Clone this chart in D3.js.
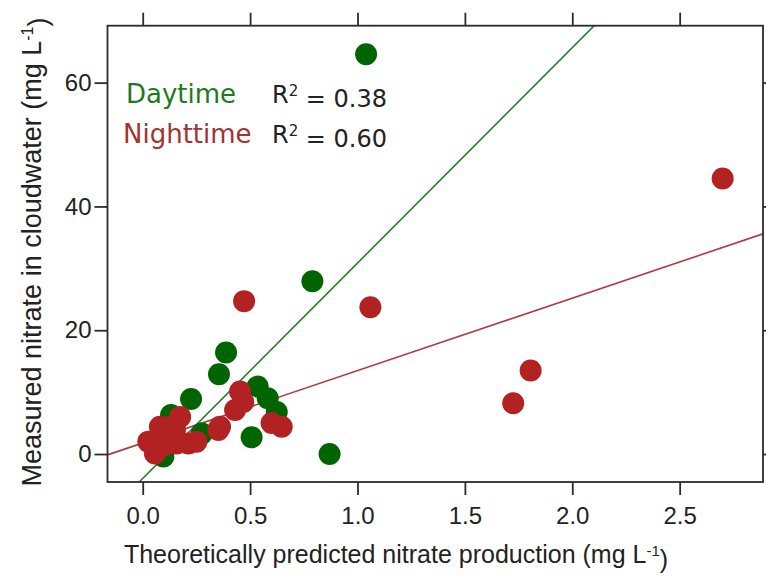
<!DOCTYPE html>
<html>
<head>
<meta charset="utf-8">
<script src="https://cdn.jsdelivr.net/npm/d3@7"></script>
<style>
  html, body { margin: 0; padding: 0; background: #fff; }
  svg { display: block; }
</style>
</head>
<body>
<div id="chart"></div>
<script>
// data: [predicted nitrate, measured nitrate]
const dayPoints = [
  [1.04, 64.6], [0.79, 27.9], [0.87, 0.0], [0.388, 16.4], [0.355, 12.9],
  [0.225, 8.9], [0.535, 10.9], [0.582, 9.0], [0.624, 6.8], [0.507, 2.7],
  [0.275, 3.3], [0.132, 6.3], [0.096, -0.4]
];
const nightPoints = [
  [2.70, 44.5], [1.06, 23.7], [1.806, 13.5], [1.725, 8.2], [0.472, 24.7],
  [0.453, 10.1], [0.468, 8.4], [0.43, 7.1], [0.36, 4.4], [0.352, 3.9],
  [0.60, 5.0], [0.647, 4.4], [0.174, 6.0], [0.127, 4.4], [0.08, 4.4],
  [0.026, 2.0], [0.057, 0.1], [0.11, 2.8], [0.158, 1.7], [0.212, 1.7],
  [0.25, 2.0], [0.15, 3.9], [0.104, 1.5]
];
// regression fits [slope, intercept]
const dayFit = [34.8, -3.95];
const nightFit = [11.7, 1.78];
const fitLabels = ["Daytime", "Nighttime"];
const r2Values = ["0.38", "0.60"];
const xTicks = [0, 0.5, 1, 1.5, 2, 2.5];
const yTicks = [0, 20, 40, 60];

const width = 766, height = 577;
const box = { left: 107.5, right: 763, top: 25.7, bottom: 482 };
const colors = {
  day: "#006400", night: "#b22222",
  dayLine: "#2a7d2a", nightLine: "#b23a3f",
  dayText: "#1f7a1f", nightText: "#a23333",
  axis: "#2b2b2b", text: "#222"
};

const svg = d3.select("#chart").append("svg")
  .attr("width", width).attr("height", height);

const x = d3.scaleLinear().domain([-0.164, 2.888]).range([box.left, box.right]);
const y = d3.scaleLinear().domain([-4.52, 69.2]).range([box.bottom, box.top]);

svg.append("defs").append("clipPath").attr("id", "plot-clip")
  .append("rect")
  .attr("x", box.left).attr("y", box.top)
  .attr("width", box.right - box.left).attr("height", box.bottom - box.top);

// axes
const axisFont = "'Liberation Sans', Arial, sans-serif";
const bottomAxis = svg.append("g")
  .attr("transform", `translate(0,${box.bottom})`)
  .call(d3.axisBottom(x).tickValues(xTicks).tickFormat(d3.format(".1f"))
    .tickSize(13).tickSizeOuter(0).tickPadding(12));
const leftAxis = svg.append("g")
  .attr("transform", `translate(${box.left},0)`)
  .call(d3.axisLeft(y).tickValues(yTicks).tickSize(13).tickSizeOuter(0).tickPadding(3));
const topAxis = svg.append("g")
  .attr("transform", `translate(0,${box.top})`)
  .call(d3.axisTop(x).tickValues(xTicks).tickFormat("").tickSize(13).tickSizeOuter(0));
const rightAxis = svg.append("g")
  .attr("transform", `translate(${box.right},0)`)
  .call(d3.axisRight(y).tickValues(yTicks).tickFormat("").tickSize(13).tickSizeOuter(0));

[bottomAxis, leftAxis, topAxis, rightAxis].forEach((g) => {
  g.select(".domain").remove();
  g.selectAll("line").attr("stroke", colors.axis).attr("stroke-width", 1.8);
  g.selectAll("text").style("font-family", axisFont).style("font-size", "24px")
    .attr("fill", colors.text);
});

// regression lines
const lineLayer = svg.append("g").attr("clip-path", "url(#plot-clip)");
[[dayFit, colors.dayLine], [nightFit, colors.nightLine]].forEach(([fit, c]) => {
  const xs = x.domain();
  lineLayer.append("line")
    .attr("x1", x(xs[0])).attr("y1", y(fit[0] * xs[0] + fit[1]))
    .attr("x2", x(xs[1])).attr("y2", y(fit[0] * xs[1] + fit[1]))
    .attr("stroke", c).attr("stroke-width", 1.6);
});

// points
svg.append("g").selectAll("circle").data(dayPoints).join("circle")
  .attr("cx", (d) => x(d[0])).attr("cy", (d) => y(d[1]))
  .attr("r", 11).attr("fill", colors.day);
svg.append("g").selectAll("circle").data(nightPoints).join("circle")
  .attr("cx", (d) => x(d[0])).attr("cy", (d) => y(d[1]))
  .attr("r", 11).attr("fill", colors.night);

// plot frame
svg.append("rect")
  .attr("x", box.left).attr("y", box.top)
  .attr("width", box.right - box.left).attr("height", box.bottom - box.top)
  .attr("fill", "none").attr("stroke", colors.axis).attr("stroke-width", 1.8);

// legend
const legendFont = "'DejaVu Sans', Verdana, sans-serif";
const legendRows = [
  { x: 126, y: 103, color: colors.dayText },
  { x: 123, y: 143, color: colors.nightText }
];
legendRows.forEach((row, i) => {
  svg.append("text")
    .attr("x", row.x).attr("y", row.y)
    .style("font-family", legendFont).style("font-size", "26px")
    .attr("fill", row.color)
    .text(fitLabels[i]);
  const r2 = svg.append("text")
    .attr("x", 272).attr("y", row.y)
    .style("font-family", legendFont).style("font-size", "24px")
    .attr("fill", colors.text);
  r2.append("tspan").text("R");
  r2.append("tspan").attr("dy", "-0.45em").style("font-size", "15px").text("2");
  r2.append("tspan").attr("dy", "0.45em").text(" = " + r2Values[i]);
});

// axis titles
const xTitle = svg.append("text")
  .attr("x", 396).attr("y", 563)
  .attr("text-anchor", "middle")
  .style("font-family", axisFont).style("font-size", "25px")
  .attr("fill", colors.text);
xTitle.append("tspan").text("Theoretically predicted nitrate production (mg L");
xTitle.append("tspan").attr("dy", "-0.5em").style("font-size", "15px").text("-1");
xTitle.append("tspan").attr("dy", "0.5em").text(")");

const yTitle = svg.append("text")
  .attr("transform", `translate(41,252) rotate(-90)`)
  .attr("text-anchor", "middle")
  .style("font-family", axisFont).style("font-size", "27px")
  .attr("fill", colors.text);
yTitle.append("tspan").text("Measured nitrate in cloudwater (mg L");
yTitle.append("tspan").attr("dy", "-0.5em").style("font-size", "16px").text("-1");
yTitle.append("tspan").attr("dy", "0.5em").text(")");
</script>
</body>
</html>
